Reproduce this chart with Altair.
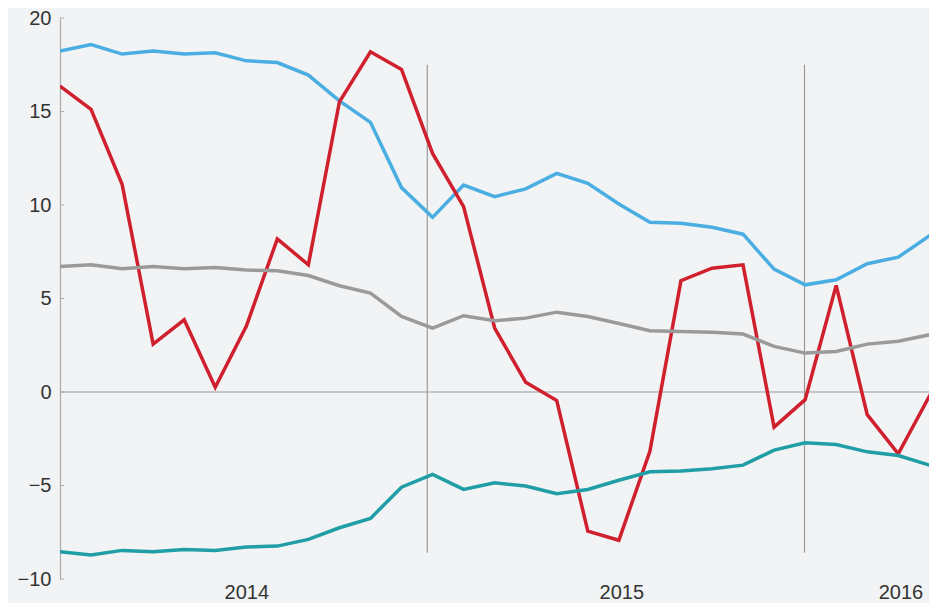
import altair as alt
import pandas as pd

# month index 0 = first observation (Jan 2014)
months = list(range(30))

blue = [18.23, 18.58, 18.07, 18.23, 18.07, 18.14, 17.71, 17.62, 16.95, 15.57,
        14.42, 10.93, 9.34, 11.07, 10.45, 10.86, 11.69, 11.16, 10.05, 9.08,
        9.02, 8.81, 8.44, 6.57, 5.73, 6.0, 6.86, 7.21, 8.35, 8.9]
red = [16.36, 15.11, 11.11, 2.56, 3.86, 0.25, 3.51, 8.19, 6.80, 15.52,
       18.19, 17.25, 12.76, 9.91, 3.42, 0.52, -0.46, -7.44, -7.93, -3.17,
       5.95, 6.62, 6.80, -1.88, -0.41, 5.70, -1.21, -3.31, -0.23, 2.5]
grey = [6.71, 6.80, 6.59, 6.71, 6.59, 6.66, 6.52, 6.48, 6.23, 5.68,
        5.29, 4.04, 3.42, 4.08, 3.81, 3.95, 4.27, 4.04, 3.66, 3.28,
        3.24, 3.19, 3.10, 2.44, 2.08, 2.17, 2.56, 2.71, 3.06, 3.2]
teal = [-8.54, -8.72, -8.47, -8.54, -8.42, -8.47, -8.29, -8.24, -7.88, -7.26,
        -6.76, -5.09, -4.41, -5.21, -4.86, -5.03, -5.44, -5.21, -4.72, -4.27,
        -4.23, -4.11, -3.91, -3.11, -2.72, -2.81, -3.20, -3.40, -3.91, -4.0]

series_names = ["blue", "red", "grey", "teal"]
series_colors = ["#4aaee2", "#d01f2d", "#9a9a9a", "#1f9ea6"]

year_labels = ["2014", "2015", "2016"]
year_pos = [6.0, 18.08, 27.07]

divider_x = [11.83, 23.98]
divider_y0 = -8.6
divider_y1 = 17.5

y_ticks = [-10, -5, 0, 5, 10, 15, 20]
x_domain = [0, 27.99]
y_domain = [-10, 20]

rows = []
for name, vals in zip(series_names, [blue, red, grey, teal]):
    for m, v in zip(months, vals):
        rows.append({"m": m, "v": v, "s": name})
df = pd.DataFrame(rows)

label_map = "{" + ",".join(f"'{p:g}':'{l}'" for p, l in zip(year_pos, year_labels)) + "}"

xs = alt.Scale(domain=x_domain, nice=False, zero=False)
ys = alt.Scale(domain=y_domain, nice=False)

lines = alt.Chart(df).mark_line(strokeWidth=3.5, clip=True, strokeJoin="miter").encode(
    x=alt.X("m:Q", scale=xs,
            axis=alt.Axis(values=year_pos, labelExpr=f"{label_map}[''+datum.value]",
                          domain=False, ticks=False, grid=False, title=None,
                          labelFontSize=20, labelColor="#333333", labelPadding=3,
                          labelFont="Liberation Sans", labelFlush=False)),
    y=alt.Y("v:Q", scale=ys,
            axis=alt.Axis(values=y_ticks, domain=True, domainColor="#aaaaaa",
                          domainWidth=1.2, ticks=False, grid=False, title=None,
                          labelFontSize=20, labelColor="#333333", labelPadding=9,
                          labelFont="Liberation Sans", format="d")),
    color=alt.Color("s:N", scale=alt.Scale(domain=series_names, range=series_colors), legend=None),
)

zero = alt.Chart(pd.DataFrame({"y": [0]})).mark_rule(color="#999999", strokeWidth=1).encode(
    y=alt.Y("y:Q", scale=ys)
)

div_df = pd.DataFrame({"x": divider_x, "y0": [divider_y0] * 2, "y1": [divider_y1] * 2})
dividers = alt.Chart(div_df).mark_rule(color="#999999", strokeWidth=1.2).encode(
    x=alt.X("x:Q", scale=xs), y=alt.Y("y0:Q", scale=ys), y2="y1:Q"
)

ticks = alt.Chart(pd.DataFrame({"y": y_ticks})).mark_rule(color="#aaaaaa", strokeWidth=1).encode(
    y=alt.Y("y:Q", scale=ys), x=alt.value(0), x2=alt.value(4)
)

chart = alt.layer(zero, dividers, ticks, lines).properties(
    width=869, height=561,
    autosize=alt.AutoSizeParams(type="none"),
    padding={"left": 52, "top": 10, "right": 0, "bottom": 24},
    background="#f1f3f5",
).configure_view(stroke=None)

chart.save("out.html", embed_options={"renderer": "svg", "actions": False})
